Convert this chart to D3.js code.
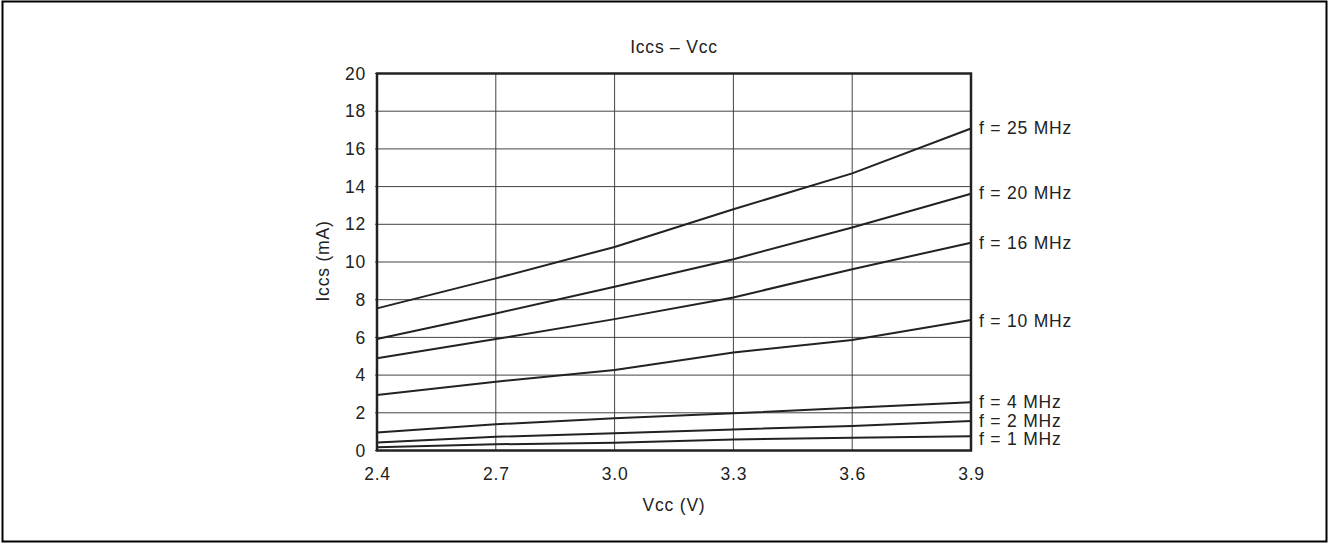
<!DOCTYPE html>
<html>
<head>
<meta charset="utf-8">
<script src="https://cdn.jsdelivr.net/npm/d3@7"></script>
<style>
    body { margin: 0; background: #fff; }
    text {
        font-family: "Liberation Sans", Arial, sans-serif;
        font-size: 17.5px;
        letter-spacing: 0.8px;
        fill: #222;
    }
    .grid line { stroke: #444; stroke-width: 1px; }
    .curve { fill: none; stroke: #222; stroke-width: 2px; }
</style>
</head>
<body>
<svg id="chart" width="1328" height="544"></svg>
<script>
// supply voltage (V)
var vcc = [2.4, 2.7, 3.0, 3.3, 3.6, 3.9];
var yTicks = [0, 2, 4, 6, 8, 10, 12, 14, 16, 18, 20];

// Iccs (mA) per clock frequency
var freqs = ["f = 25 MHz", "f = 20 MHz", "f = 16 MHz", "f = 10 MHz", "f = 4 MHz", "f = 2 MHz", "f = 1 MHz"];
var i25 = [7.54, 9.13, 10.8, 12.8, 14.7, 17.08];
var i20 = [5.91, 7.27, 8.69, 10.15, 11.83, 13.62];
var i16 = [4.89, 5.91, 6.97, 8.12, 9.62, 11.02];
var i10 = [2.94, 3.65, 4.27, 5.2, 5.86, 6.92];
var i4  = [0.96, 1.39, 1.71, 1.97, 2.27, 2.56];
var i2  = [0.43, 0.73, 0.91, 1.12, 1.3, 1.56];
var i1  = [0.17, 0.33, 0.41, 0.59, 0.68, 0.75];
var series = [i25, i20, i16, i10, i4, i2, i1];
// where each label sits (mA)
var labelAt = [17.1, 13.7, 11.05, 6.9, 2.6, 1.6, 0.6];

function draw(){
    var svg = d3.select("#chart");

    // outer frame
    svg.append("rect")
        .attr("x", 2.5).attr("y", 1.5)
        .attr("width", 1324).attr("height", 540)
        .attr("fill", "none")
        .attr("stroke", "#000")
        .attr("stroke-width", 2);

    var pl = 377, pr = 971, pt = 73.5, pb = 450.5;

    var x = d3.scaleLinear().domain([2.4, 3.9]).range([pl, pr]);
    var y = d3.scaleLinear().domain([0, 20]).range([pb, pt]);

    // grid
    var grid = svg.append("g").attr("class", "grid");
    grid.selectAll(".h").data(yTicks).enter().append("line")
        .attr("class", "h")
        .attr("x1", pl - 2).attr("x2", pr)
        .attr("y1", function(d){ return y(d); })
        .attr("y2", function(d){ return y(d); });
    grid.selectAll(".v").data(vcc).enter().append("line")
        .attr("class", "v")
        .attr("x1", function(d){ return x(d); })
        .attr("x2", function(d){ return x(d); })
        .attr("y1", pt).attr("y2", pb);

    // axes (labels only, lines come from grid/frame)
    var yAxis = svg.append("g")
        .attr("transform", "translate(" + pl + ",0)")
        .call(d3.axisLeft(y).tickValues(yTicks).tickSize(0).tickPadding(11).tickFormat(d3.format("d")));
    var xAxis = svg.append("g")
        .attr("transform", "translate(0," + pb + ")")
        .call(d3.axisBottom(x).tickValues(vcc).tickSize(0).tickPadding(17).tickFormat(d3.format(".1f")));
    [yAxis, xAxis].forEach(function(a){
        a.select(".domain").remove();
        a.attr("font-size", null).attr("font-family", null);
        a.selectAll("text").attr("fill", "#222");
    });

    // plot frame
    svg.append("rect")
        .attr("x", pl).attr("y", pt)
        .attr("width", pr - pl).attr("height", pb - pt)
        .attr("fill", "none")
        .attr("stroke", "#222")
        .attr("stroke-width", 2.5);

    // curves
    var line = d3.line()
        .x(function(d, i){ return x(vcc[i]); })
        .y(function(d){ return y(d); });

    svg.selectAll(".curve").data(series).enter().append("path")
        .attr("class", "curve")
        .attr("d", line);

    // series labels
    svg.selectAll(".lbl").data(freqs).enter().append("text")
        .attr("class", "lbl")
        .attr("x", pr + 8)
        .attr("y", function(d, i){ return y(labelAt[i]); })
        .attr("dy", "0.36em")
        .text(function(d){ return d; });

    // titles
    svg.append("text")
        .attr("x", 674).attr("y", 47).attr("dy", "0.36em")
        .attr("text-anchor", "middle")
        .text("Iccs – Vcc");
    svg.append("text")
        .attr("x", 674).attr("y", 505).attr("dy", "0.36em")
        .attr("text-anchor", "middle")
        .text("Vcc (V)");
    svg.append("text")
        .attr("transform", "translate(323,261) rotate(-90)")
        .attr("dy", "0.36em")
        .attr("text-anchor", "middle")
        .text("Iccs (mA)");
}

draw();
</script>
</body>
</html>
